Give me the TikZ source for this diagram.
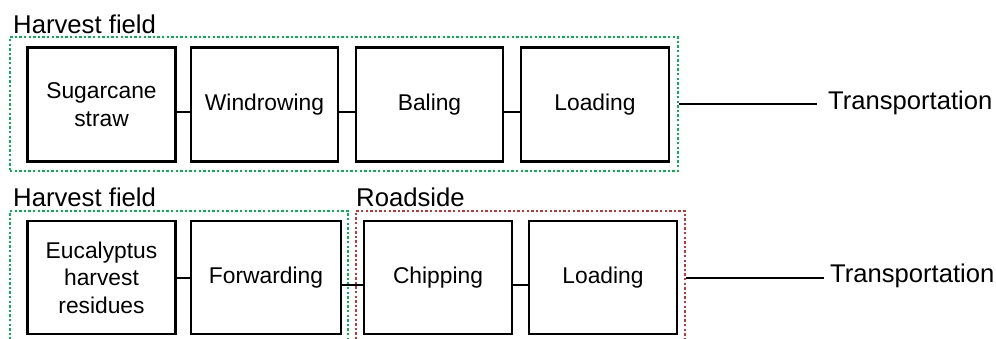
\documentclass[tikz,border=0pt]{standalone}
\usepackage{fontspec}
\setmainfont{Liberation Sans}
\definecolor{fieldgreen}{RGB}{0,180,80}
\definecolor{roadred}{RGB}{205,50,50}
\begin{document}
\begin{tikzpicture}[x=1pt,y=-1pt,
  stagebox/.style={draw, line width=2.2pt, inner sep=0pt, align=center,
    font=\fontsize{22.8}{27.5}\selectfont},
  zone/.style={draw, line width=2.6pt, dash pattern=on 2.4pt off 2.2pt, inner sep=0pt},
  zonelabel/.style={anchor=base west, inner sep=0pt, font=\fontsize{25.7}{30}\selectfont},
  translabel/.style={anchor=base west, inner sep=0pt, font=\fontsize{25.6}{30}\selectfont},
  link/.style={line width=2pt}]
\useasboundingbox (0,0) rectangle (996,339);
\clip (0,0) rectangle (996,339);

% Sugarcane chain
\node[zone, fieldgreen, minimum width=668pt, minimum height=134pt] (g1) at (344,104) {};
\node[zonelabel] (l1) at (13,34) {Harvest field};
\node[stagebox, minimum width=148pt, minimum height=114pt] (s1) at (101.5,104.5) {Sugarcane\\straw};
\node[stagebox, minimum width=147pt, minimum height=114pt] (s2) at (264.5,104.5) {Windrowing};
\node[stagebox, minimum width=147pt, minimum height=114pt] (s3) at (429.5,104.5) {Baling};
\node[stagebox, minimum width=148pt, minimum height=114pt] (s4) at (595,104.5) {Loading};
\node[translabel] (t1) at (828,110) {Transportation};
\draw[link] ([yshift=-7.5pt]s1.east) -- ([yshift=-7.5pt]s2.west);
\draw[link] ([yshift=-7.5pt]s2.east) -- ([yshift=-7.5pt]s3.west);
\draw[link] ([yshift=-7.5pt]s3.east) -- ([yshift=-7.5pt]s4.west);
\draw[link] (g1.east) -- ([xshift=-11pt]g1.east -| t1.west);

% Eucalyptus chain
\node[zone, fieldgreen, minimum width=338pt, minimum height=136pt] (g2) at (179,279) {};
\node[zone, roadred, minimum width=329pt, minimum height=136pt] (r2) at (520.5,279) {};
\node[zonelabel] (l2) at (13,207) {Harvest field};
\node[zonelabel] (l3) at (356,207) {Roadside};
\node[stagebox, minimum width=148pt, minimum height=113pt] (e1) at (101.5,277.5) {Eucalyptus\\harvest\\residues};
\node[stagebox, minimum width=150pt, minimum height=113pt] (e2) at (266,277.5) {Forwarding};
\node[stagebox, minimum width=148pt, minimum height=113pt] (e3) at (438,277.5) {Chipping};
\node[stagebox, minimum width=148pt, minimum height=113pt] (e4) at (603,277.5) {Loading};
\node[translabel] (t2) at (830,282) {Transportation};
\draw[link] (e1.east) -- (e2.west);
\draw[link] ([yshift=-7.5pt]e2.east) -- ([yshift=-7.5pt]e3.west);
\draw[link] ([yshift=-7.5pt]e3.east) -- ([yshift=-7.5pt]e4.west);
\draw[link] (e4.east -| r2.east) -- ([xshift=-6pt]e4.east -| t2.west);
\end{tikzpicture}
\end{document}
